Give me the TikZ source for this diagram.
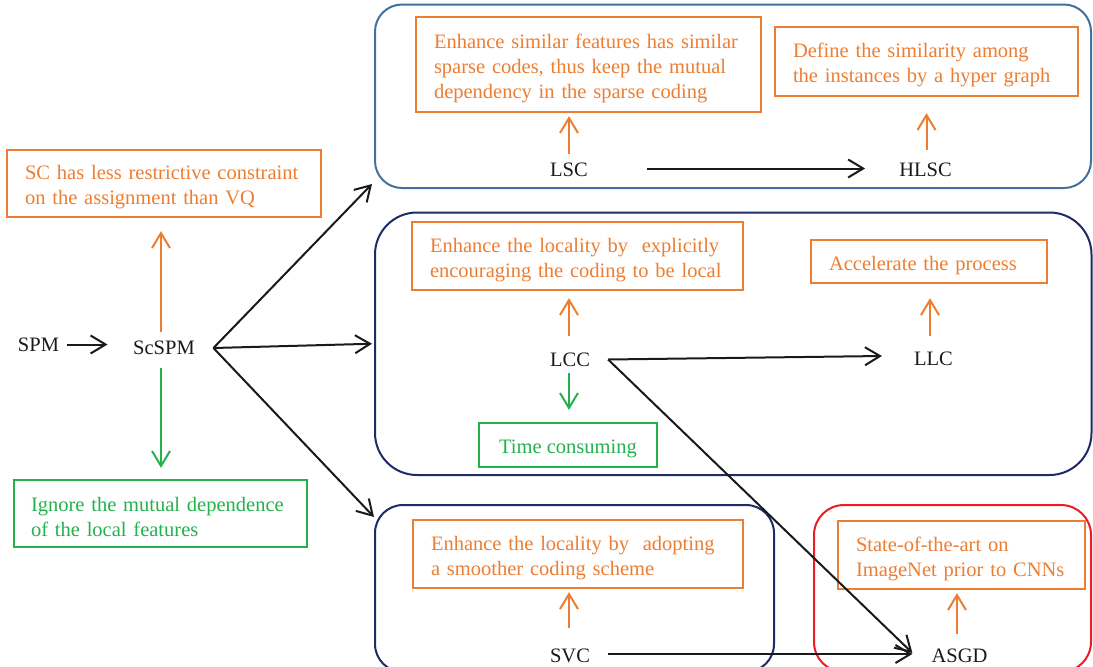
\documentclass[tikz,border=0pt]{standalone}
\usepackage{fontspec}
\setmainfont{Liberation Serif}
\usetikzlibrary{arrows.meta}
\definecolor{cOr}{HTML}{ED7D31}
\definecolor{cGr}{HTML}{22B14C}
\definecolor{cNv}{HTML}{1F2A66}
\definecolor{cBl}{HTML}{41719C}
\definecolor{cRd}{HTML}{ED1C24}
\definecolor{cBk}{HTML}{1A1A1A}
\newcommand{\oneln}[1]{\mbox{#1}}
\begin{document}
\begin{tikzpicture}[x=1pt,y=-1pt,
  every node/.style={font=\fontsize{20.5}{25}\selectfont},
  lbl/.style={inner sep=0pt, text=cBk},
  grp/.style={line width=2pt, inner sep=0pt},
  obox/.style={draw=cOr, line width=2.2pt, text=cOr, align=left, inner ysep=0pt, inner xsep=18pt,
    execute at begin node={\rule{0pt}{22pt}}},
  gbox/.style={draw=cGr, line width=2.2pt, text=cGr, align=left, inner ysep=0pt, inner xsep=18pt,
    execute at begin node={\rule{0pt}{22pt}}},
  arr/.style={line width=2pt, -{Straight Barb[length=15pt,width=18pt]}},
  blk/.style={arr, draw=cBk},
  ora/.style={arr, draw=cOr},
  grn/.style={arr, draw=cGr}]
\useasboundingbox (0,0) rectangle (1093,667);

% group boxes
\node[grp, draw=cBl, rounded corners=27pt, minimum width=716pt, minimum height=183.5pt] (G1) at (733,96.25) {};
\node[grp, draw=cNv, rounded corners=42pt, minimum width=716.5pt, minimum height=262.5pt] (G2) at (733.25,343.75) {};
\node[grp, draw=cNv, rounded corners=28pt, minimum width=399pt, minimum height=167pt] (G3) at (574.5,588.5) {};
\node[grp, draw=cRd, rounded corners=30pt, minimum width=277pt, minimum height=167pt] (G4) at (952.5,588.5) {};

% text boxes
\node[obox, text width=309pt, minimum width=345pt, minimum height=95pt] (OB1) at (588.5,64.5)
  {\oneln{Enhance similar features has similar}\\\oneln{sparse codes, thus keep the mutual}\\\oneln{dependency in the sparse coding}};
\node[obox, text width=267pt, minimum width=303pt, minimum height=69pt] (OB2) at (926.5,61.5)
  {\oneln{Define the similarity among}\\\oneln{the instances by a hyper graph}};
\node[obox, text width=295pt, minimum width=331pt, minimum height=68pt] (OB3) at (577.5,256)
  {\oneln{Enhance the locality by\ \ explicitly}\\\oneln{encouraging the coding to be local}};
\node[obox, text width=200pt, minimum width=236pt, minimum height=43pt] (OB4) at (929,261.5)
  {\oneln{Accelerate the process}};
\node[gbox, align=center, inner xsep=0pt, minimum width=178pt, minimum height=44pt] (TC) at (568,445)
  {Time consuming};
\node[obox, text width=294pt, minimum width=330pt, minimum height=68pt] (OB5) at (578,554)
  {\oneln{Enhance the locality by\ \ adopting}\\\oneln{a smoother coding scheme}};
\node[obox, text width=211pt, minimum width=247pt, minimum height=68pt] (OB6) at (961.5,555)
  {\oneln{State-of-the-art on}\\\oneln{ImageNet prior to CNNs}};
\node[obox, text width=278pt, minimum width=314pt, minimum height=67pt] (OB7) at (164,183.5)
  {\oneln{SC has less restrictive constraint}\\\oneln{on the assignment than VQ}};
\node[gbox, inner xsep=17pt, text width=259pt, minimum width=293pt, minimum height=67pt] (GB2) at (160.5,513.5)
  {\oneln{Ignore the mutual dependence}\\\oneln{of the local features}};

% labels
\node[lbl] (SPM) at (38.5,344.5) {SPM};
\node[lbl] (ScSPM) at (164,348) {ScSPM};
\node[lbl] (LSC) at (569,169.5) {LSC};
\node[lbl] (HLSC) at (925.5,169.5) {HLSC};
\node[lbl] (LCC) at (570,359.5) {LCC};
\node[lbl] (LLC) at (933.5,358.5) {LLC};
\node[lbl] (SVC) at (570,655.5) {SVC};
\node[lbl] (ASGD) at (959.5,655.5) {ASGD};

% connectors
\draw[blk, shorten <=7.5pt, shorten >=25.5pt] (SPM.east) -- (SPM.east -| ScSPM.west);
\draw[ora, shorten <=9pt, shorten >=13pt] ([xshift=-3pt]ScSPM.north) -- ([xshift=-3pt]ScSPM.north |- OB7.south);
\draw[grn, shorten <=13pt, shorten >=11pt] ([xshift=-3pt]ScSPM.south) -- ([xshift=-3pt]ScSPM.south |- GB2.north);
\draw[blk] ([xshift=18.5pt]ScSPM.east) -- ([xshift=-2pt,yshift=5pt]G1.south west);
\draw[blk] ([xshift=18.5pt]ScSPM.east) -- ([xshift=-2pt]G2.west);
\draw[blk] ([xshift=18.5pt]ScSPM.east) -- ([yshift=-13pt]G3.north west);

\draw[ora, shorten <=8.5pt, shorten >=3pt] (LSC.north) -- (LSC.north |- OB1.south);
\draw[ora, shorten <=12.5pt, shorten >=16pt] ([xshift=1pt]HLSC.north) -- ([xshift=1pt]HLSC.north |- OB2.south);
\draw[blk, shorten <=59pt, shorten >=34pt] ([yshift=1pt]LSC.east) -- ([yshift=1pt]HLSC.west);

\draw[ora, shorten <=16.5pt, shorten >=7pt] ([xshift=-1pt]LCC.north) -- ([xshift=-1pt]LCC.north |- OB3.south);
\draw[grn, shorten <=6.5pt, shorten >=12pt] ([xshift=-1pt]LCC.south) -- ([xshift=-1pt]LCC.south |- TC.north);
\draw[ora, shorten <=15.5pt, shorten >=14pt] ([xshift=-3.5pt]LLC.north) -- ([xshift=-3.5pt]LLC.north |- OB4.south);
\draw[blk] ([xshift=18pt]LCC.east) -- ([xshift=-32pt,yshift=2.5pt]LLC.west);
\draw[blk] ([xshift=18pt]LCC.east) -- ([xshift=-19pt,yshift=2.5pt]ASGD.west);

\draw[ora, shorten <=20.5pt, shorten >=3pt] ([xshift=-1pt]SVC.north) -- ([xshift=-1pt]SVC.north |- OB5.south);
\draw[blk] ([xshift=18pt,yshift=1.5pt]SVC.east) -- ([xshift=-19pt,yshift=1.5pt]ASGD.west);
\draw[ora, shorten <=14.5pt, shorten >=3pt] ([xshift=-2.5pt]ASGD.north) -- ([xshift=-2.5pt]ASGD.north |- OB6.south);
\end{tikzpicture}
\end{document}
